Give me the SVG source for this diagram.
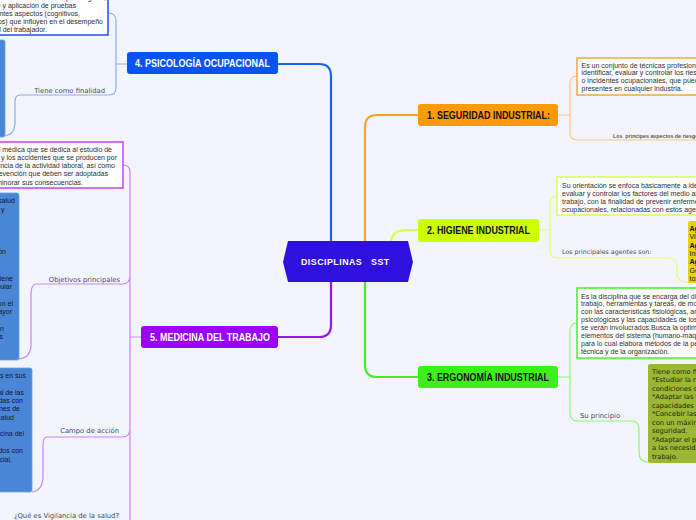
<svg xmlns="http://www.w3.org/2000/svg" width="696" height="520" viewBox="0 0 696 520">
<style>
.t{font-family:"Liberation Sans",Arial,sans-serif;font-size:7px;fill:#2e2e2e}
.e{text-anchor:end}
.d{font-family:"Liberation Sans",Arial,sans-serif;font-size:7px;fill:#15152a}
.lbl{font-family:"DejaVu Sans",Verdana,sans-serif;font-size:6.8px;fill:#3f4b5c}
.ol{font-family:"DejaVu Sans",Verdana,sans-serif;font-size:6.7px;fill:#1e2410}
.nt{font-family:"Liberation Sans",Arial,sans-serif;font-size:10px;font-weight:bold}
.tr{fill:none;stroke-width:2.2;stroke-linecap:round}
.br{fill:none;stroke-width:1.2}
.box{fill:#fff;stroke-width:1.5}
.blue{fill:#4a86d8;stroke:#6b9fe6;stroke-width:0.8}
</style>
<rect width="696" height="520" fill="#f3f5fd"/>

<g id="connectors">
  <path class="tr" stroke="#1f62f0" d="M331,241 V76 Q331,64 319,64 H278"/>
  <path class="tr" stroke="#ffa22a" d="M365,241 V127 Q365,115 377,115 H418"/>
  <path class="tr" stroke="#d9ff4a" d="M391,241 Q393,230 405,230 H418"/>
  <path class="tr" stroke="#45f020" d="M365,282 V365 Q365,377 377,377 H418"/>
  <path class="tr" stroke="#9a12ee" d="M331,282 V325 Q331,337 319,337 H278"/>
  <path class="br" stroke="#ffc47e" d="M558,115 H570 M577,76 Q570,76 570,84 V133 Q570,140 578,140 H700"/>
  <path class="br" stroke="#e2ff6e" d="M539,230 H550 M557,196 Q550,196 550,204 V250 Q550,258 558,258 H668 Q677,258 677,268 V274 Q677,282 688,282"/>
  <path class="br" stroke="#8ef574" d="M558,377 H570 M577,323 Q570,323 570,331 V413 Q570,421 578,421 H632 Q639,421 639,430 V452 Q639,462 648,462"/>
  <path class="br" stroke="#92aaf0" d="M127,64 H116 M108,13 Q116,13 116,21 V88 Q116,95 109,95 H20 Q15,95 15,102 V124 Q14,135 5,136"/>
  <path class="br" stroke="#cd82ff" d="M141,337 H130 M123,165 Q130,165 130,172 V520 M130,276 Q130,284 122,284 H36 Q32,284 31,292 V346 Q30,358 19,359 M130,429 Q130,437 122,437 H47 Q43,437 43,445 V478 Q42,491 32,492"/>
</g>

<g id="center">
  <polygon points="283,262 288,241 408,241 413,262 408,282 288,282" fill="#3010dc"/>
  <text x="301" y="265.3" style="white-space:pre;font-family:'Liberation Sans',Arial,sans-serif;font-size:8.8px;font-weight:bold;letter-spacing:0.5px" fill="#fff">DISCIPLINAS   SST</text>
</g>

<g id="seguridad">
  <rect x="418" y="104" width="140" height="22" rx="3" fill="#fd9a08"/>
  <text class="nt" x="427" y="118.6" textLength="123" lengthAdjust="spacingAndGlyphs" fill="#111">1. SEGURIDAD INDUSTRIAL:</text>
</g>
<g id="seguridad-def">
  <rect class="box" x="577" y="58" width="130" height="37" stroke="#f5a53c"/>
  <text class="t" x="581.5" y="67.5">Es un conjunto de técnicas profesionales que permiten</text>
  <text class="t" x="581.5" y="75.4">identificar, evaluar y controlar los riesgos</text>
  <text class="t" x="581.5" y="83.3">o incidentes ocupacionales, que pueden estar</text>
  <text class="t" x="581.5" y="91.2">presentes en cualquier industria.</text>
</g>
<g id="seguridad-aspectos">
  <text x="613" y="138" style="font-family:'Liberation Sans',Arial,sans-serif;font-size:5.3px;font-weight:bold;white-space:pre" fill="#555">Los  principes aspectos de riesgos</text>
</g>

<g id="higiene">
  <rect x="418" y="219" width="121" height="23" rx="3" fill="#ccff00"/>
  <text class="nt" x="427" y="234" textLength="103" lengthAdjust="spacingAndGlyphs" fill="#111">2. HIGIENE INDUSTRIAL</text>
</g>
<g id="higiene-def">
  <rect class="box" x="557" y="177" width="150" height="38" stroke="#d9ff55"/>
  <text class="t" x="562" y="187.5">Su orientación se enfoca básicamente a identificar,</text>
  <text class="t" x="562" y="195.5">evaluar y controlar los factores del medio ambiente de</text>
  <text class="t" x="562" y="203.5">trabajo, con la finalidad de prevenir enfermedades</text>
  <text class="t" x="562" y="211.5">ocupacionales, relacionadas con estos agentes.</text>
</g>
<g id="higiene-agentes">
  <text class="lbl" x="562" y="254" style="font-size:6.3px">Los principales agentes son:</text>
</g>
<g id="higiene-lista">
  <rect x="688" y="221" width="20" height="62" rx="2" fill="#e6d400"/>
  <text class="d" x="689.5" y="230.8" font-weight="bold">Agentes</text>
  <text class="d" x="689.5" y="239.2">Vibraciones</text>
  <text class="d" x="689.5" y="247.5" font-weight="bold">Agentes</text>
  <text class="d" x="689.5" y="255.8">Inhalación</text>
  <text class="d" x="689.5" y="264.2" font-weight="bold">Agentes</text>
  <text class="d" x="689.5" y="272.5">Gérmenes</text>
  <text class="d" x="689.5" y="280.8">toxinas</text>
</g>

<g id="ergonomia">
  <rect x="418" y="366" width="140" height="22" rx="3" fill="#3df01a"/>
  <text class="nt" x="427" y="380.6" textLength="122" lengthAdjust="spacingAndGlyphs" fill="#111">3. ERGONOMÍA INDUSTRIAL</text>
</g>
<g id="ergonomia-def">
  <rect class="box" x="577" y="288" width="130" height="70" stroke="#48f026"/>
  <text class="t" x="581" y="298.5">Es la disciplina que se encarga del diseño de lugares de</text>
  <text class="t" x="581" y="306.4">trabajo, herramientas y tareas, de modo que coincidan</text>
  <text class="t" x="581" y="314.3">con las características fisiológicas, anatómicas,</text>
  <text class="t" x="581" y="322.2">psicológicas y las capacidades de los trabajadores</text>
  <text class="t" x="581" y="330.1">se verán involucrados.Busca la optimización de los</text>
  <text class="t" x="581" y="338">elementos del sistema (humano-máquina-ambiente),</text>
  <text class="t" x="581" y="345.9">para lo cual elabora métodos de la persona, de la</text>
  <text class="t" x="581" y="353.8">técnica y de la organización.</text>
</g>
<g id="ergonomia-principio">
  <text class="lbl" x="580" y="418">Su principio</text>
</g>
<g id="ergonomia-finalidad">
  <rect x="648" y="364" width="60" height="99" rx="2" fill="#9ab832"/>
  <text class="ol" x="652" y="373.5">Tiene como finalidad:</text>
  <text class="ol" x="652" y="382">*Estudiar la relación</text>
  <text class="ol" x="652" y="390.5">condiciones de</text>
  <text class="ol" x="652" y="399">*Adaptar las tareas</text>
  <text class="ol" x="652" y="407.5">capacidades del</text>
  <text class="ol" x="652" y="416">*Concebir las</text>
  <text class="ol" x="652" y="424.5">con un máximo de</text>
  <text class="ol" x="652" y="433">seguridad.</text>
  <text class="ol" x="652" y="441.5">*Adaptar el puesto</text>
  <text class="ol" x="652" y="450">a las necesidades</text>
  <text class="ol" x="652" y="458.5">trabajo.</text>
</g>

<g id="psicologia">
  <rect x="127" y="52" width="151" height="22" rx="3" fill="#0753f5"/>
  <text class="nt" x="135" y="66.7" textLength="135" lengthAdjust="spacingAndGlyphs" fill="#fff">4. PSICOLOGÍA OCUPACIONAL</text>
</g>
<g id="psicologia-def">
  <rect class="box" x="-10" y="-10" width="118" height="45" stroke="#1d52ea"/>
  <text class="t e" x="106" y="-0.5">conocimientos psicológicos,</text>
  <text class="t e" x="76" y="7.5">mediante el diseño y aplicación de pruebas</text>
  <text class="t e" x="80" y="15.8">que miden los diferentes aspectos (cognitivos,</text>
  <text class="t e" x="103" y="24.2">psicológicos) que influyen en el desempeño</text>
  <text class="t e" x="47" y="31.8">laboral del trabajador.</text>
</g>
<g id="psicologia-finalidad-label">
  <text class="lbl e" x="105" y="92.5">Tiene como finalidad</text>
</g>
<g id="psicologia-finalidad">
  <rect class="blue" x="-10" y="40" width="15" height="97" rx="2"/>
</g>

<g id="medicina">
  <rect x="141" y="326" width="137" height="22" rx="3" fill="#9b00f8"/>
  <text class="nt" x="150" y="340.6" textLength="120" lengthAdjust="spacingAndGlyphs" fill="#fff">5. MEDICINA DEL TRABAJO</text>
</g>
<g id="medicina-def">
  <rect class="box" x="-10" y="142" width="133" height="46" stroke="#c940f8"/>
  <text class="t e" x="112" y="152">Es la especialidad médica que se dedica al estudio de</text>
  <text class="t e" x="117" y="160">las enfermedades y los accidentes que se producen por</text>
  <text class="t e" x="115" y="168.2">consecuencia de la actividad laboral, así como</text>
  <text class="t e" x="108" y="176.2">las medidas de prevención que deben ser adoptadas</text>
  <text class="t e" x="83" y="184.5">para evitarlas o aminorar sus consecuencias.</text>
</g>
<g id="medicina-objetivos-label">
  <text class="lbl e" x="120" y="281.5">Objetivos principales</text>
</g>
<g id="medicina-objetivos">
  <rect class="blue" x="-10" y="193" width="29" height="167" rx="2"/>
  <text class="d e" x="15" y="203.2">de la salud</text>
  <text class="d e" x="4.5" y="211.7">y</text>
  <text class="d e" x="6" y="254.2">ón</text>
  <text class="d e" x="13" y="280.5">tiene</text>
  <text class="d e" x="12" y="289">particular</text>
  <text class="d e" x="13" y="305.5">con el</text>
  <text class="d e" x="12" y="314">mayor</text>
  <text class="d e" x="4" y="330.7">en</text>
  <text class="d e" x="3" y="339.2">los</text>
</g>
<g id="medicina-campo-label">
  <text class="lbl e" x="119" y="433">Campo de acción</text>
</g>
<g id="medicina-campo">
  <rect class="blue" x="-10" y="368" width="42" height="124" rx="2"/>
  <text class="d e" x="26" y="377.5">trabajadores en sus</text>
  <text class="d e" x="24" y="394.5">general de las</text>
  <text class="d e" x="23" y="402.8">relacionadas con</text>
  <text class="d e" x="20" y="411.2">condiciones de</text>
  <text class="d e" x="14" y="419.5">salud</text>
  <text class="d e" x="24" y="436">medicina del</text>
  <text class="d e" x="23" y="453">relacionados con</text>
  <text class="d e" x="12" y="461.5">social,</text>
</g>
<g id="medicina-vigilancia">
  <text class="lbl e" x="119" y="518">¿Qué es Vigilancia de la salud?</text>
</g>
</svg>
